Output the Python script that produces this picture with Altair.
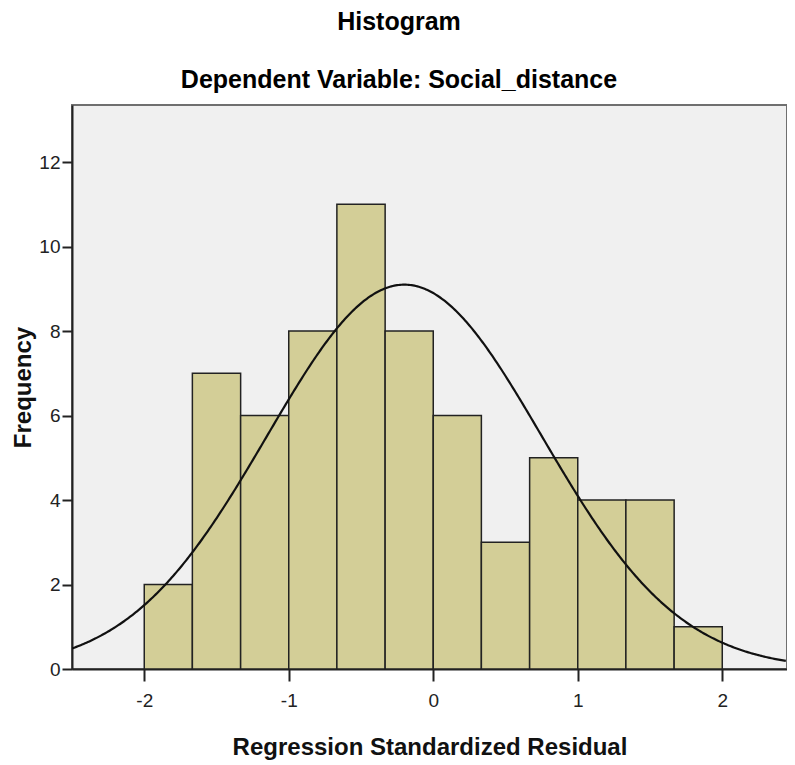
import altair as alt
import pandas as pd

# Histogram data
bin_starts = [-2.0, -1.667, -1.333, -1.0, -0.667, -0.333, 0.0, 0.333, 0.667, 1.0, 1.333, 1.667]
bin_ends = [-1.667, -1.333, -1.0, -0.667, -0.333, 0.0, 0.333, 0.667, 1.0, 1.333, 1.667, 2.0]
counts = [2, 7, 6, 8, 11, 8, 6, 3, 5, 4, 4, 1]

# Normal curve parameters (as drawn by SPSS)
curve_mean = -0.2
curve_sd = 0.95
n_total = 65
bin_width = 0.3333

x_ticks = [-2, -1, 0, 1, 2]
y_ticks = [0, 2, 4, 6, 8, 10, 12]
x_domain = [-2.5, 2.448]
y_domain = [0, 13.35]

FONT = "Liberation Sans"

bars_df = pd.DataFrame({"start": bin_starts, "end": bin_ends, "count": counts})

x_scale = alt.Scale(domain=x_domain, nice=False, zero=False)
y_scale = alt.Scale(domain=y_domain, nice=False)

bars = alt.Chart(bars_df).mark_rect(
    fill="#D3CE97", stroke="#222222", strokeWidth=1.5
).encode(
    x=alt.X("start:Q", scale=x_scale,
            axis=alt.Axis(values=x_ticks, title="Regression Standardized Residual",
                          labelExpr="'' + datum.value",
                          tickSize=12, labelPadding=10, titleY=85,
                          titleBaseline="alphabetic")),
    x2="end:Q",
    y=alt.Y("count:Q", scale=y_scale,
            axis=alt.Axis(values=y_ticks, title="Frequency", tickSize=10,
                          labelExpr="'' + datum.value",
                          labelPadding=2, titleX=-42, titleBaseline="alphabetic")),
    y2=alt.datum(0),
)

curve = alt.Chart(alt.sequence(x_domain[0], x_domain[1] + 0.001, 0.01, as_="x")).transform_calculate(
    freq=f"{n_total} * {bin_width} / ({curve_sd} * sqrt(2 * PI)) * exp(-0.5 * pow((datum.x - ({curve_mean})) / {curve_sd}, 2))"
).mark_line(color="#111111", strokeWidth=2.2, clip=True).encode(
    x=alt.X("x:Q", scale=x_scale),
    y=alt.Y("freq:Q", scale=y_scale),
)

chart = alt.layer(bars, curve).properties(
    width=715,
    height=564,
    autosize=alt.AutoSizeParams(type="none"),
    padding={"left": 64, "top": 97, "right": 0, "bottom": 91},
    title=alt.TitleParams(
        text="Histogram",
        subtitle="Dependent Variable: Social_distance",
        font=FONT, fontSize=25, fontWeight="bold", color="#000000",
        subtitleFont=FONT, subtitleFontSize=25, subtitleFontWeight="bold",
        subtitleColor="#000000", subtitlePadding=33,
        anchor="middle", frame="bounds", offset=12,
    ),
).configure(
    background="#ffffff",
).configure_view(
    fill="#F0F0F0", stroke="#6f6f6f", strokeWidth=2,
).configure_axis(
    labelFont=FONT, labelFontSize=19, labelColor="#222222",
    titleFont=FONT, titleFontSize=24, titleFontWeight="bold", titleColor="#111111",
    domainColor="#222222", domainWidth=2, tickColor="#222222", tickWidth=2,
    grid=False,
)

chart.save("out.html", embed_options={"renderer": "svg", "actions": False})
